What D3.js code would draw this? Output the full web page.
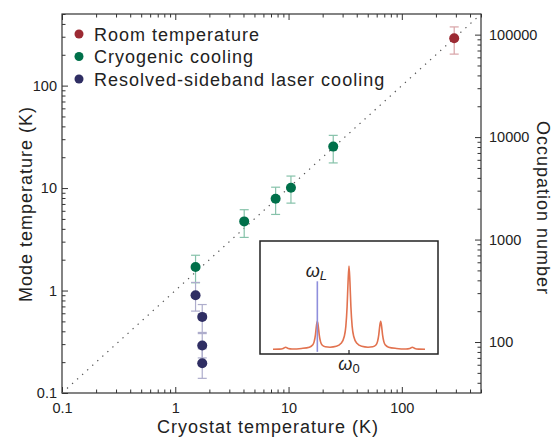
<!DOCTYPE html>
<html>
<head>
<meta charset="utf-8">
<script src="https://cdn.jsdelivr.net/npm/d3@7"></script>
<style>
  body { margin: 0; background: #fff; }
  text { font-family: "Liberation Sans", Arial, sans-serif; }
</style>
</head>
<body>
<svg id="chart" width="553" height="440"></svg>
<script>
// series (temperatures in K)
const seriesNames = ['Room temperature', 'Cryogenic cooling', 'Resolved-sideband laser cooling'];
const seriesColors = ['#9c2a33', '#00704a', '#2f2e63'];
const errorColors = ['#d8a2a6', '#86c2aa', '#aeadcc'];

const roomT = [290];
const roomMode = [290];
const roomLo = [203];
const roomHi = [374];

const cryoT = [1.51, 4.06, 7.69, 10.5, 24.8];
const cryoMode = [1.70, 4.73, 7.87, 10.07, 25.4];
const cryoLo = [1.19, 3.30, 5.53, 7.13, 17.6];
const cryoHi = [2.21, 6.15, 10.2, 13.1, 32.7];

const laserT = [1.51, 1.73, 1.73, 1.73];
const laserMode = [0.90, 0.553, 0.291, 0.195];
const laserLo = [0.63, 0.39, 0.22, 0.139];
const laserHi = [1.2, 0.73, 0.38, 0.27];

const xTickLabels = ['0.1', '1', '10', '100'];
const yTickLabels = ['0.1', '1', '10', '100'];
const occTickLabels = ['100', '1000', '10000', '100000'];
const occPerKelvin = 318;

// inset spectrum (detuning in units of the mode spacing, relative amplitude)
const specW = [-2.4, -2.2, -2.08, -2.0, -1.92, -1.8, -1.5, -1.25, -1.15, -1.1, -1.06, -1.03, -1.0,
  -0.97, -0.94, -0.9, -0.85, -0.75, -0.6, -0.4, -0.25, -0.15, -0.1, -0.06, -0.03, 0,
  0.03, 0.06, 0.1, 0.15, 0.25, 0.4, 0.6, 0.75, 0.85, 0.9, 0.94, 0.97, 1.0,
  1.03, 1.06, 1.1, 1.15, 1.25, 1.5, 1.8, 1.92, 2.0, 2.08, 2.2, 2.4];
const specA = [0.02, 0.022, 0.03, 0.045, 0.03, 0.024, 0.03, 0.045, 0.07, 0.11, 0.19, 0.29, 0.35,
  0.29, 0.19, 0.11, 0.07, 0.05, 0.045, 0.055, 0.09, 0.17, 0.29, 0.52, 0.81, 1.0,
  0.81, 0.52, 0.29, 0.17, 0.09, 0.055, 0.045, 0.05, 0.07, 0.11, 0.19, 0.29, 0.35,
  0.29, 0.19, 0.11, 0.07, 0.045, 0.03, 0.024, 0.03, 0.045, 0.03, 0.022, 0.02];
const laserLineW = -1;
const laserLineA = [-0.01, 0.82];

const svg = d3.select('#chart');
const box = { left: 62, right: 481, top: 14, bottom: 393 };
const axisColor = '#333';

const x = d3.scaleLog().domain([0.1, 500]).range([box.left, box.right]);
const y = d3.scaleLog().domain([0.1, 500]).range([box.bottom, box.top]);
const y2 = d3.scaleLog()
  .domain([0.1 * occPerKelvin, 500 * occPerKelvin])
  .range([box.bottom, box.top]);

const xMajor = xTickLabels.map(Number);
const yMajor = yTickLabels.map(Number);
const occMajor = occTickLabels.map(Number);
const isPow10 = v => Math.abs(Math.log10(v) - Math.round(Math.log10(v))) < 1e-6;
const xMinor = x.ticks().filter(v => !isPow10(v));
const yMinor = y.ticks().filter(v => !isPow10(v));
const occMinor = y2.ticks().filter(v => !isPow10(v));

function styleAxis(g, size) {
  g.select('.domain').remove();
  g.selectAll('line').attr('stroke', axisColor);
  g.attr('font-size', size).attr('font-family', '"Liberation Sans", Arial, sans-serif')
    .attr('fill', '#222');
  g.selectAll('text').attr('fill', '#222');
}

// minor ticks
svg.append('g').attr('transform', `translate(0,${box.bottom})`)
  .call(d3.axisBottom(x).tickValues(xMinor).tickSize(-3.5).tickFormat(''))
  .call(styleAxis, 14.5);
svg.append('g').attr('transform', `translate(0,${box.top})`)
  .call(d3.axisTop(x).tickValues(xMinor).tickSize(-3.5).tickFormat(''))
  .call(styleAxis, 14.5);
svg.append('g').attr('transform', `translate(${box.left},0)`)
  .call(d3.axisLeft(y).tickValues(yMinor).tickSize(-3.5).tickFormat(''))
  .call(styleAxis, 14.5);
svg.append('g').attr('transform', `translate(${box.right},0)`)
  .call(d3.axisRight(y2).tickValues(occMinor).tickSize(-3.5).tickFormat(''))
  .call(styleAxis, 14.5);

// major ticks with labels
svg.append('g').attr('transform', `translate(0,${box.bottom})`)
  .call(d3.axisBottom(x).tickValues(xMajor).tickSize(-6).tickPadding(10)
    .tickFormat((d, i) => xTickLabels[i]))
  .call(styleAxis, 14.5);
svg.append('g').attr('transform', `translate(0,${box.top})`)
  .call(d3.axisTop(x).tickValues(xMajor).tickSize(-6).tickFormat(''))
  .call(styleAxis, 14.5);
svg.append('g').attr('transform', `translate(${box.left},0)`)
  .call(d3.axisLeft(y).tickValues(yMajor).tickSize(-6).tickPadding(5)
    .tickFormat((d, i) => yTickLabels[i]))
  .call(styleAxis, 14.5);
svg.append('g').attr('transform', `translate(${box.right},0)`)
  .call(d3.axisRight(y2).tickValues(occMajor).tickSize(-6).tickPadding(8)
    .tickFormat((d, i) => occTickLabels[i]))
  .call(styleAxis, 14.5);

// frame
svg.append('rect')
  .attr('x', box.left).attr('y', box.top)
  .attr('width', box.right - box.left).attr('height', box.bottom - box.top)
  .attr('fill', 'none').attr('stroke', axisColor).attr('stroke-width', 1.2);

// axis titles
svg.append('text')
  .attr('x', 268).attr('y', 433)
  .attr('text-anchor', 'middle').attr('font-size', 18).attr('letter-spacing', 1)
  .attr('fill', '#222')
  .text('Cryostat temperature (K)');
svg.append('text')
  .attr('transform', 'translate(32,204) rotate(-90)')
  .attr('text-anchor', 'middle').attr('font-size', 18).attr('letter-spacing', 1)
  .attr('fill', '#222')
  .text('Mode temperature (K)');
svg.append('text')
  .attr('transform', 'translate(537,208) rotate(90)')
  .attr('text-anchor', 'middle').attr('font-size', 18).attr('letter-spacing', 1)
  .attr('fill', '#222')
  .text('Occupation number');

// y = x guide
const diag = [0.1, 500];
svg.append('line')
  .attr('x1', x(diag[0])).attr('y1', y(diag[0]))
  .attr('x2', x(diag[1])).attr('y2', y(diag[1]))
  .attr('stroke', '#555').attr('stroke-width', 1.2)
  .attr('stroke-dasharray', '1.3 5.5');

// points
const series = [
  { t: roomT, m: roomMode, lo: roomLo, hi: roomHi },
  { t: cryoT, m: cryoMode, lo: cryoLo, hi: cryoHi },
  { t: laserT, m: laserMode, lo: laserLo, hi: laserHi }
];
const cap = 4.5;
series.forEach((s, k) => {
  const g = svg.append('g').attr('stroke', errorColors[k]).attr('stroke-width', 1.2);
  s.t.forEach((t, i) => {
    const cx = x(t);
    g.append('line').attr('x1', cx).attr('x2', cx).attr('y1', y(s.lo[i])).attr('y2', y(s.hi[i]));
    g.append('line').attr('x1', cx - cap).attr('x2', cx + cap).attr('y1', y(s.lo[i])).attr('y2', y(s.lo[i]));
    g.append('line').attr('x1', cx - cap).attr('x2', cx + cap).attr('y1', y(s.hi[i])).attr('y2', y(s.hi[i]));
  });
});
series.forEach((s, k) => {
  svg.append('g').selectAll('circle')
    .data(s.t)
    .enter()
    .append('circle')
      .attr('cx', d => x(d))
      .attr('cy', (d, i) => y(s.m[i]))
      .attr('r', 5)
      .attr('fill', seriesColors[k]);
});

// legend
seriesNames.forEach((name, i) => {
  const ly = 34 + i * 22.5;
  svg.append('circle').attr('cx', 79).attr('cy', ly).attr('r', 4.5).attr('fill', seriesColors[i]);
  svg.append('text')
    .attr('x', 94).attr('y', ly + 6.5)
    .attr('font-size', 18).attr('letter-spacing', 1).attr('fill', '#222')
    .text(name);
});

// inset
const inset = { left: 260, right: 438, top: 241, bottom: 354 };
svg.append('rect')
  .attr('x', inset.left).attr('y', inset.top)
  .attr('width', inset.right - inset.left).attr('height', inset.bottom - inset.top)
  .attr('fill', '#fff').attr('stroke', '#222').attr('stroke-width', 1.5);

const ix = d3.scaleLinear().domain([-2.4, 2.4]).range([273, 425]);
const iy = d3.scaleLinear().domain([0, 1]).range([351, 266]);

svg.append('line')
  .attr('x1', ix(0)).attr('x2', ix(0))
  .attr('y1', inset.bottom).attr('y2', inset.bottom - 4)
  .attr('stroke', '#222').attr('stroke-width', 1.2);

svg.append('path')
  .datum(specW)
  .attr('fill', 'none').attr('stroke', '#e2724f').attr('stroke-width', 1.6)
  .attr('d', d3.line()
    .x(d => ix(d))
    .y((d, i) => iy(specA[i]))
    .curve(d3.curveMonotoneX));

svg.append('line')
  .attr('x1', ix(laserLineW)).attr('x2', ix(laserLineW))
  .attr('y1', iy(laserLineA[0])).attr('y2', iy(laserLineA[1]))
  .attr('stroke', '#8f8fdc').attr('stroke-width', 1.6);

const omegaL = svg.append('text')
  .attr('x', ix(laserLineW) - 1).attr('y', 277)
  .attr('text-anchor', 'middle')
  .attr('font-family', '"Liberation Serif", "DejaVu Serif", serif')
  .attr('font-size', 18).attr('font-style', 'italic').attr('fill', '#222');
omegaL.append('tspan').text('ω');
omegaL.append('tspan').attr('font-size', 13).attr('dy', 3).text('L');

const omega0 = svg.append('text')
  .attr('x', ix(0)).attr('y', 370)
  .attr('text-anchor', 'middle')
  .attr('font-family', '"Liberation Serif", "DejaVu Serif", serif')
  .attr('font-size', 18).attr('fill', '#222');
omega0.append('tspan').attr('font-style', 'italic').text('ω');
omega0.append('tspan').attr('font-size', 13).attr('dy', 3).text('0');
</script>
</body>
</html>
